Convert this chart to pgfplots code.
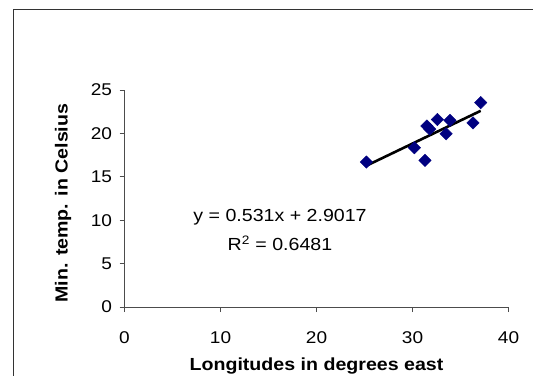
\documentclass[border=0pt]{standalone}
\usepackage{fontspec}
\setmainfont[FakeStretch=1.12]{Liberation Sans}
\usepackage{pgfplots}
\pgfplotsset{compat=1.18}
\definecolor{navyblue}{HTML}{000080}
\definecolor{framegray}{HTML}{333333}
\begin{document}
\begin{tikzpicture}[x=1bp,y=1bp]
\useasboundingbox (0,0) rectangle (533,375);
\draw[framegray, line width=1.5bp] (13.5,-20) -- (13.5,365.5) -- (560,365.5);
\begin{axis}[
  at={(124.5bp,68bp)}, anchor=origin,
  scale only axis, width=384bp, height=217bp,
  xmin=0, xmax=40, ymin=0, ymax=25,
  xtick={0,10,20,30,40}, ytick={0,5,10,15,20,25},
  axis x line=bottom, axis y line=left,
  axis line style={black!70, line width=0.8bp, -},
  tick style={black!70, line width=0.8bp},
  tick align=outside, major tick length=5bp,
  /pgf/number format/assume math mode=true,
  ticklabel style={font=\fontsize{17bp}{19bp}\selectfont},
  xticklabel style={yshift=-16bp},
  yticklabel style={xshift=-4bp},
  xlabel={\textbf{Longitudes in degrees east}},
  ylabel={\textbf{Min. temp. in Celsius}},
  label style={font=\fontsize{17.5bp}{19bp}\selectfont},
  xlabel style={at={(axis description cs:0.5,-0.27)}, anchor=center},
  ylabel style={at={(axis description cs:-0.16,0.479)}, anchor=center},
  clip=false,
]
\addplot[only marks, mark=square*, mark size=4.4bp, mark options={rotate=45, fill=navyblue, draw=navyblue}] coordinates {
(25.2,16.7) (30.2,18.35) (31.3,16.9) (31.5,20.85) (31.8,20.5)
(32.6,21.6) (33.9,21.5) (33.5,19.95) (36.3,21.2) (37.1,23.55)
};
\addplot[black, line width=2.6bp] coordinates {(25.2,16.28) (37.1,22.60)};
\node[font=\fontsize{17.5bp}{19bp}\selectfont] at (axis cs:16.2,10.3) {y = 0.531x + 2.9017};
\node[font=\fontsize{17.5bp}{19bp}\selectfont] at (axis cs:16.2,7.35) {R\textsuperscript{2} = 0.6481};
\end{axis}
\end{tikzpicture}
\end{document}
